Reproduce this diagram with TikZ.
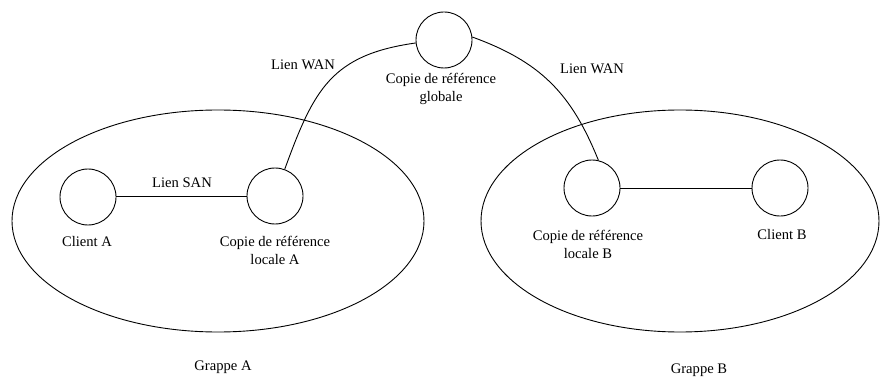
\documentclass[tikz,border=0pt]{standalone}
\usepackage{fontspec}
\setmainfont{Liberation Serif}
\begin{document}
\begin{tikzpicture}[x=1pt,y=1pt,
  site/.style={circle,draw,line width=0.9pt,minimum size=56pt,inner sep=0pt},
  link/.style={line width=0.9pt},
  lbl/.style={font=\fontsize{14.6}{18}\selectfont,align=center,inner sep=0pt}]
\useasboundingbox (0,0) rectangle (880,378);

% clusters
\draw[link] (218,157) ellipse [x radius=206, y radius=111];
\draw[link] (680,157) ellipse [x radius=199, y radius=111];

% sites
\node[site] (global) at (444,338) {};
\node[site] (clientA) at (88,181) {};
\node[site] (localA) at (275,182) {};
\node[site] (localB) at (592,190) {};
\node[site] (clientB) at (780,190) {};

% links
\draw[link] (localA.west) -- (localA.west -| clientA.east);
\draw[link] (localB.east) -- (clientB.west);
\draw[link] (localA.70) to[out=70,in=188,looseness=1.2] (global.186);
\draw[link] (global.6) to[out=-20,in=112,looseness=1.05] (localB.77);

% labels
\node[lbl] (wanA) at (303,313) {Lien WAN};
\node[lbl] (wanB) at (592,309) {Lien WAN};
\node[lbl] (san) at (182,195) {Lien SAN};
\node[lbl] (globalT) at (441,289) {Copie de référence\\globale};
\node[lbl] (clientAT) at (87,136) {Client A};
\node[lbl] (localAT) at (275,127.5) {Copie de référence\\locale A};
\node[lbl] (localBT) at (588,134) {Copie de référence\\locale B};
\node[lbl] (clientBT) at (782,143) {Client B};
\node[lbl] (grappeA) at (223,11) {Grappe A};
\node[lbl] (grappeB) at (699,8) {Grappe B};
\end{tikzpicture}
\end{document}
